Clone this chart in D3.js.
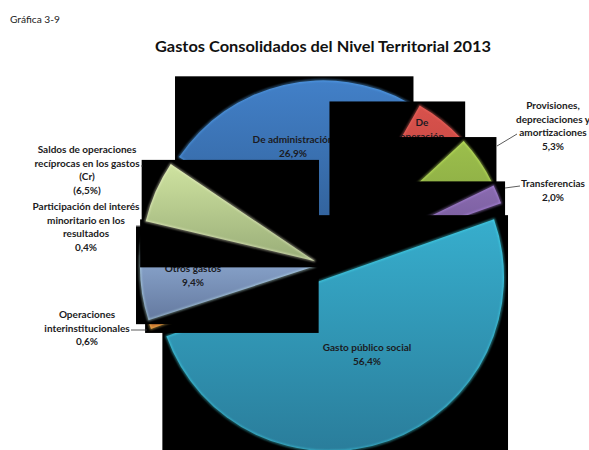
<!DOCTYPE html>
<html>
<head>
<meta charset="utf-8">
<script src="https://cdn.jsdelivr.net/npm/d3@7"></script>
<style>
	html, body { margin: 0; padding: 0; background: #fff; overflow: hidden; }
	text { font-family: Lato, "Open Sans", sans-serif; }
</style>
</head>
<body>
<script>
// order is the drawing order, the later slices paint over the earlier ones
var categories = [
	'De administración', 'De operación', 'Provisiones, depreciaciones y amortizaciones',
	'Transferencias', 'Gasto público social', 'Operaciones interinstitucionales',
	'Otros gastos', 'Participación del interés minoritario en los resultados',
	'Saldos de operaciones recíprocas en los gastos (Cr)'
];
var values = [26.9, 5.5, 5.3, 2.0, 56.4, 0.6, 9.4, 0.4, 6.5];
var labelLines = [
	['De administración', '26,9%'],
	['De', 'operación', '5,5%'],
	['Provisiones,', 'depreciaciones y', 'amortizaciones', '5,3%'],
	['Transferencias', '2,0%'],
	['Gasto público social', '56,4%'],
	['Operaciones', 'interinstitucionales', '0,6%'],
	['Otros gastos', '9,4%'],
	['Participación del interés', 'minoritario en los', 'resultados', '0,4%'],
	['Saldos de operaciones', 'recíprocas en los gastos', '(Cr)', '(6,5%)']
];
var colorsTop = ['#4280c8', '#d8524c', '#9cbf4c', '#8a6bb0', '#37aecd', '#f79646', '#9ab8e0', '#c0504d', '#cfe3a0'];
var colorsBottom = ['#2f5c92', '#b23c38', '#7f9c3e', '#6c5390', '#2a7d9b', '#c8752e', '#64799f', '#96403c', '#99ad78'];

// label anchors, same order as categories
var labelX = [293, 422, 553, 553, 367, 87, 193, 86, 87];
var labelY = [140, 123, 106, 184, 348, 315, 269, 207, 150];
var outside = [false, false, true, true, false, true, false, true, true];
// leader lines [x1, y1, x2, y2]
var leaders = [
	[517, 134, 497, 146],
	[520, 186, 505, 188],
	[131, 330, 147, 330],
	[136, 226, 140, 226],
	[141, 166, 143, 166]
];

var width = 589,
    height = 450,
    cx = 326,
    cy = 266,
    radius = 174,
    explode = 12,
    pad = 4,
    lineHeight = 13.6;

var svg = d3.select('body').append('svg')
	.attr('width', width)
	.attr('height', height)
	.style('display', 'block');

var defs = svg.append('defs');

defs.append('filter').attr('id', 'soft')
	.append('feGaussianBlur').attr('stdDeviation', 0.8);

var pie = d3.pie().sort(null)
	.startAngle(304 * Math.PI / 180)
	.endAngle((304 + 360) * Math.PI / 180);

var arc = d3.arc().innerRadius(0).outerRadius(radius);

var arcs = pie(values);

svg.append('text')
	.attr('x', 10).attr('y', 23)
	.attr('font-size', 10.2)
	.attr('fill', '#222')
	.text('Gráfica 3-9');

svg.append('text')
	.attr('x', 323).attr('y', 52)
	.attr('text-anchor', 'middle')
	.attr('font-size', 15.4)
	.attr('font-weight', 700)
	.attr('fill', '#111')
	.attr('textLength', 336)
	.attr('lengthAdjust', 'spacingAndGlyphs')
	.text('Gastos Consolidados del Nivel Territorial 2013');

function drawLabel(g, i) {
	var t = g.append('text')
		.attr('text-anchor', 'middle')
		.attr('font-size', 10)
		.attr('font-weight', 700)
		.attr('fill', '#1b1b22');
	labelLines[i].forEach(function (line, k) {
		t.append('tspan')
			.attr('x', labelX[i])
			.attr('y', labelY[i] + k * lineHeight + 3)
			.text(line);
	});
}

arcs.forEach(function (d, i) {
	var mid = (d.startAngle + d.endAngle) / 2,
	    dx = Math.sin(mid) * explode,
	    dy = -Math.cos(mid) * explode;

	var grad = defs.append('linearGradient')
		.attr('id', 'grad' + i)
		.attr('x1', 0).attr('x2', 0)
		.attr('y1', 0).attr('y2', 1);
	grad.append('stop').attr('offset', '0%').attr('stop-color', colorsTop[i]);
	grad.append('stop').attr('offset', '100%').attr('stop-color', colorsBottom[i]);

	// black box first, the slice sits on it
	var box = svg.append('rect').attr('fill', '#000');

	var g = svg.append('g')
		.attr('transform', 'translate(' + (cx + dx) + ',' + (cy + dy) + ')');

	var slice = g.append('path')
		.attr('d', arc(d))
		.attr('fill', 'url(#grad' + i + ')');

	g.append('path')
		.attr('d', arc(d))
		.attr('fill', 'none')
		.attr('stroke', d3.color(colorsTop[i]).brighter(0.9))
		.attr('stroke-opacity', 0.7)
		.attr('stroke-width', 1.4)
		.attr('filter', 'url(#soft)');

	var b = slice.node().getBBox();
	box.attr('x', cx + dx + b.x - pad)
		.attr('y', cy + dy + b.y - pad)
		.attr('width', b.width + 2 * pad)
		.attr('height', b.height + 2 * pad);

	if (!outside[i]) drawLabel(svg, i);
});

svg.selectAll('line.leader').data(leaders).enter()
	.append('line')
	.attr('class', 'leader')
	.attr('x1', function (d) { return d[0]; })
	.attr('y1', function (d) { return d[1]; })
	.attr('x2', function (d) { return d[2]; })
	.attr('y2', function (d) { return d[3]; })
	.attr('stroke', '#333')
	.attr('stroke-width', 0.8);

categories.forEach(function (name, i) {
	if (outside[i]) drawLabel(svg, i);
});
</script>
</body>
</html>
